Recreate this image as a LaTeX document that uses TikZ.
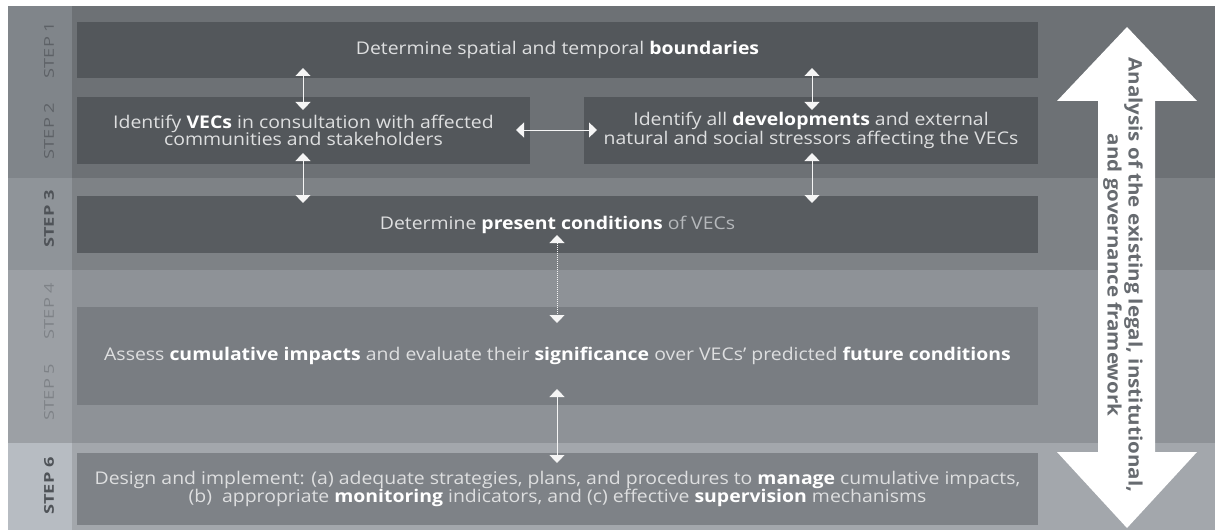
\documentclass[tikz,border=0pt]{standalone}
\usepackage{fontspec}
\setmainfont{Open Sans}[FakeStretch=1.11]
\newfontfamily\lblfont{Open Sans}[FakeStretch=1.35]
\usetikzlibrary{arrows.meta}
\definecolor{bandA}{HTML}{6D7175}
\definecolor{bandB}{HTML}{7E8286}
\definecolor{bandC}{HTML}{8E9297}
\definecolor{bandD}{HTML}{A3A7AC}
\definecolor{colA}{HTML}{80858A}
\definecolor{colB}{HTML}{8F9499}
\definecolor{colC}{HTML}{9CA0A5}
\definecolor{colD}{HTML}{B7BCC2}
\definecolor{boxA}{HTML}{53575B}
\definecolor{boxB}{HTML}{585C60}
\definecolor{boxC}{HTML}{797D82}
\definecolor{boxD}{HTML}{7E8287}
\definecolor{txt}{HTML}{DEDFE0}
\definecolor{dimtxt}{HTML}{B5B8BB}
\definecolor{arrtxt}{HTML}{676B70}
\definecolor{lblA}{HTML}{5D6166}
\definecolor{lblC}{HTML}{7E8287}
\definecolor{lblD}{HTML}{4F5358}
\newcommand\kw[1]{\textbf{\color{white}#1}}
\tikzset{
  stepbox/.style={inner sep=0pt, align=center, text=txt,
    font=\fontsize{17.5}{17.5}\selectfont},
  steplabel/.style={rotate=90, font=\lblfont\fontsize{13.5}{14}\selectfont, inner sep=0pt},
  boldlabel/.style={steplabel, font=\lblfont\fontsize{13.5}{14}\selectfont\bfseries, text=lblD},
  link/.style={draw=white!92!gray, line width=1pt,
    {Triangle[width=15pt,length=8pt]}-{Triangle[width=15pt,length=8pt]}}
}
\begin{document}
\begin{tikzpicture}[x=1pt,y=-1pt]
\useasboundingbox (0,0) rectangle (1217,532);
\fill[white] (0,0) rectangle (1217,532);
% bands
\fill[bandA] (8,6) rectangle (1215,178);
\fill[bandB] (8,178) rectangle (1215,270);
\fill[bandC] (8,270) rectangle (1215,443);
\fill[bandD] (8,443) rectangle (1215,530);
% left column
\fill[colA] (8,6) rectangle (72,178);
\fill[colB] (8,178) rectangle (72,270);
\fill[colC] (8,270) rectangle (72,443);
\fill[colD] (8,443) rectangle (72,530);
% step labels
\node[steplabel, text=lblA] (l1) at (49,50) {STEP 1};
\node[steplabel, text=lblA] (l2) at (49,131) {STEP 2};
\node[boldlabel] (l3) at (49,219) {STEP 3};
\node[steplabel, text=lblC] (l4) at (49,311) {STEP 4};
\node[steplabel, text=lblC] (l5) at (49,392) {STEP 5};
\node[boldlabel] (l6) at (49,486) {STEP 6};
% boxes
\node[stepbox, fill=boxA, minimum width=961pt, minimum height=56pt] (s1) at (557.5,50)
  {Determine spatial and temporal \kw{boundaries}};
\node[stepbox, fill=boxA, minimum width=453pt, minimum height=67pt] (s2a) at (303.5,130.5)
  {Identify \kw{VECs} in consultation with affected\\communities and stakeholders};
\node[stepbox, fill=boxA, minimum width=454pt, minimum height=67pt] (s2b) at (811,130.5)
  {Identify all \kw{developments} and external\\natural and social stressors affecting the VECs};
\node[stepbox, fill=boxB, minimum width=961pt, minimum height=57pt] (s3) at (557.5,224.5)
  {Determine \kw{present conditions} {\color{dimtxt}of VECs}};
\node[stepbox, fill=boxC, minimum width=961pt, minimum height=98pt] (s5) at (557.5,356)
  {Assess \kw{cumulative impacts} and evaluate their \kw{significance} over VECs' predicted \kw{future conditions}};
\node[stepbox, fill=boxD, minimum width=961pt, minimum height=72pt] (s6) at (557.5,489)
  {Design and implement: (a) adequate strategies, plans, and procedures to \kw{manage} cumulative impacts,\\(b)\ \ appropriate \kw{monitoring} indicators, and (c) effective \kw{supervision} mechanisms};
% connector end points
\coordinate (c1a) at (303,68);  \coordinate (c1b) at (303,110);
\coordinate (c2a) at (303,153); \coordinate (c2b) at (303,203);
\coordinate (c3a) at (812,68);  \coordinate (c3b) at (812,110);
\coordinate (c4a) at (812,153); \coordinate (c4b) at (812,203);
\coordinate (h1) at (516,130);  \coordinate (h2) at (597,130);
\coordinate (c5a) at (557,235); \coordinate (c5b) at (557,323);
\coordinate (c6a) at (557,389); \coordinate (c6b) at (557,463);
\draw[link] (c1a) -- (c1b);
\draw[link] (c2a) -- (c2b);
\draw[link] (c3a) -- (c3b);
\draw[link] (c4a) -- (c4b);
\draw[link] (h1) -- (h2);
\draw[link, densely dotted] (c5a) -- (c5b);
\draw[link] (c6a) -- (c6b);
% big double arrow
\fill[white] (1127,27) -- (1197,101) -- (1155,101) -- (1155,452) -- (1197,452)
  -- (1127,528) -- (1057,452) -- (1098,452) -- (1098,101) -- (1057,101) -- cycle;
\node[rotate=-90, align=center, text=arrtxt, inner sep=0pt,
  font=\fontsize{18.5}{21}\selectfont\bfseries] (ax) at (1123,275)
  {Analysis of the existing legal, institutional,\\and governance framework};
\end{tikzpicture}
\end{document}
